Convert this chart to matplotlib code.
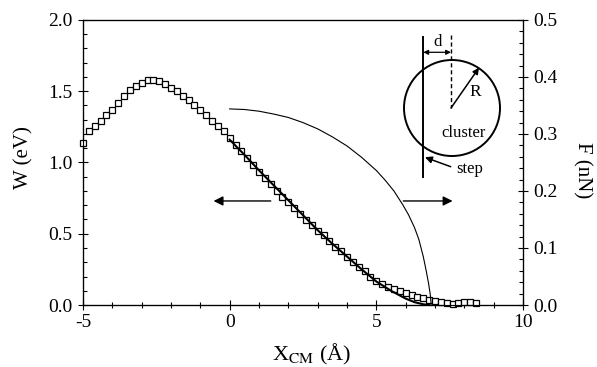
import matplotlib
matplotlib.use("Agg")
import matplotlib.pyplot as plt
from matplotlib.ticker import MultipleLocator, FormatStrFormatter
from matplotlib.patches import Circle, FancyArrowPatch

plt.rcParams['font.family'] = ['Liberation Serif', 'DejaVu Serif']
plt.rcParams['mathtext.fontset'] = 'stix'
plt.rcParams['axes.unicode_minus'] = False

# --- data ---
x_sq_start = -5.0
x_sq_step = 0.2
w_squares = [1.14, 1.22, 1.256, 1.29, 1.33, 1.37, 1.42, 1.47, 1.51, 1.54,
             1.56, 1.58, 1.58, 1.57, 1.55, 1.52, 1.50, 1.47, 1.44, 1.40,
             1.37, 1.33, 1.29, 1.255, 1.22, 1.17, 1.125, 1.08, 1.03, 0.98,
             0.935, 0.89, 0.85, 0.80, 0.76, 0.725, 0.68, 0.64, 0.60, 0.56,
             0.52, 0.49, 0.45, 0.41, 0.376, 0.34, 0.30, 0.27, 0.24, 0.20,
             0.165, 0.145, 0.128, 0.113, 0.098, 0.082, 0.07, 0.058, 0.047, 0.038,
             0.03, 0.022, 0.012, 0.006, 0.012, 0.018, 0.018, 0.012]
x_squares = [x_sq_start + x_sq_step * i for i in range(len(w_squares))]

x_fit = [0.0, 0.5, 1.0, 1.5, 2.0, 2.5, 3.0, 3.5, 4.0, 4.5, 5.0, 5.5, 6.0, 6.3, 6.6, 6.8]
w_fit = [1.16, 1.055, 0.945, 0.84, 0.735, 0.63, 0.525, 0.43, 0.34, 0.25, 0.165, 0.10, 0.045, 0.02, 0.005, 0.0]

x_force = [0.0, 0.5, 1.0, 1.5, 2.0, 2.5, 3.0, 3.5, 4.0, 4.5, 5.0, 5.3, 5.6,
           5.9, 6.1, 6.3, 6.45, 6.6, 6.7, 6.78, 6.84, 6.87]
f_force = [0.344, 0.343, 0.340, 0.335, 0.329, 0.320, 0.309, 0.295, 0.279, 0.259,
           0.236, 0.219, 0.200, 0.176, 0.158, 0.136, 0.115, 0.085, 0.060, 0.038,
           0.018, 0.0]

x_ticks = [-5, 0, 5, 10]
w_ticks = [0.0, 0.5, 1.0, 1.5, 2.0]
f_ticks = [0.0, 0.1, 0.2, 0.3, 0.4, 0.5]

# --- figure ---
W, H = 597, 367
fig = plt.figure(figsize=(W / 100, H / 100), dpi=100)
ax = fig.add_axes([83 / W, 1 - 305 / H, (523 - 83) / W, (305 - 20) / H])

ax.plot(x_squares, w_squares, ls='none', marker='s', ms=4.6, mfc='white',
        mec='black', mew=0.9, zorder=3, clip_on=False)
ax.plot(x_fit, w_fit, color='black', lw=1.5, zorder=4)

ax.set_xlim(-5, 10)
ax.set_ylim(0, 2.0)
ax.set_xticks(x_ticks)
ax.set_yticks(w_ticks)
ax.xaxis.set_minor_locator(MultipleLocator(1))
ax.yaxis.set_minor_locator(MultipleLocator(0.1))
ax.yaxis.set_major_formatter(FormatStrFormatter('%.1f'))
ax.tick_params(axis='x', which='major', direction='inout', length=7, width=0.8,
               labelsize=14, pad=3)
ax.tick_params(axis='x', which='minor', direction='inout', length=5, width=0.8)
ax.tick_params(axis='y', which='major', direction='inout', length=7, width=0.8,
               labelsize=14, pad=4)
ax.tick_params(axis='y', which='minor', direction='in', length=3, width=0.8)
for s in ax.spines.values():
    s.set_linewidth(0.9)

ax2 = ax.twinx()
ax2.plot(x_force, f_force, color='black', lw=0.8, zorder=3)
ax2.set_ylim(0, 0.5)
ax2.set_yticks(f_ticks)
ax2.yaxis.set_minor_locator(MultipleLocator(0.02))
ax2.yaxis.set_major_formatter(FormatStrFormatter('%.1f'))
ax2.tick_params(axis='y', which='major', direction='inout', length=7, width=0.8,
                labelsize=14, pad=4)
ax2.tick_params(axis='y', which='minor', direction='in', length=3, width=0.8)

# direction arrows (data coords of W axis)
ax.annotate('', xy=(-0.55, 0.73), xytext=(1.4, 0.73),
            arrowprops=dict(arrowstyle='-|>', color='black', lw=1.0,
                            mutation_scale=14, shrinkA=0, shrinkB=0))
ax.annotate('', xy=(7.6, 0.73), xytext=(5.92, 0.73),
            arrowprops=dict(arrowstyle='-|>', color='black', lw=1.0,
                            mutation_scale=14, shrinkA=0, shrinkB=0))

# axis labels
fig.text(24 / W, 1 - 158 / H, 'W (eV)', rotation=90, ha='center', va='center', fontsize=15)
fig.text(582 / W, 1 - 170 / H, 'F (nN)', rotation=-90, ha='center', va='center', fontsize=15)
fig.text(312 / W, 1 - 360 / H, r'X$_{\mathrm{CM}}$ (Å)', ha='center', va='baseline', fontsize=16)

# inset diagram in pixel coordinates
ov = fig.add_axes([0, 0, 1, 1], zorder=5)
ov.set_xlim(0, W)
ov.set_ylim(H, 0)
ov.axis('off')
ov.patch.set_alpha(0)
ov.add_patch(Circle((452, 108), 48, fill=False, ec='black', lw=1.4))
ov.plot([423.3, 423.3], [36.7, 176.7], color='black', lw=1.4)
ov.plot([451, 451], [35, 108], color='black', lw=1.0, ls=(0, (3, 2)))
ov.add_patch(FancyArrowPatch((423.3, 52.3), (451, 52.3), arrowstyle='<|-|>',
                             mutation_scale=7, color='black', lw=0.9,
                             shrinkA=0, shrinkB=0))
ov.add_patch(FancyArrowPatch((451, 108), (479, 67.7), arrowstyle='-|>',
                             mutation_scale=9, color='black', lw=1.1,
                             shrinkA=0, shrinkB=0))
ov.add_patch(FancyArrowPatch((450.7, 166.7), (425, 157.3), arrowstyle='-|>',
                             mutation_scale=10, color='black', lw=1.1,
                             shrinkA=0, shrinkB=0))
ov.text(437.3, 41.7, 'd', ha='center', va='center', fontsize=12)
ov.text(475, 91.7, 'R', ha='center', va='center', fontsize=12.5)
ov.text(463.3, 133.3, 'cluster', ha='center', va='center', fontsize=12)
ov.text(470, 169, 'step', ha='center', va='center', fontsize=12)

fig.savefig('out.png', dpi=100)
